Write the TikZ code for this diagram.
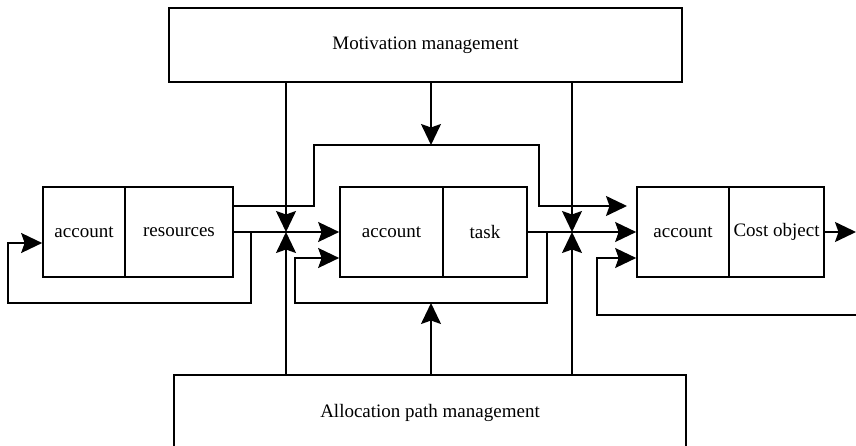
\documentclass[tikz,border=0pt]{standalone}
\usepackage{fontspec}
\setmainfont{Liberation Serif}
\usetikzlibrary{arrows.meta,calc}
\begin{document}
\begin{tikzpicture}[x=1pt,y=-1pt,
  box/.style={draw,line width=1.7pt,minimum height=90pt,inner sep=0pt,font=\fontsize{19}{22}\selectfont},
  big/.style={draw,line width=1.7pt,inner sep=0pt,font=\fontsize{19}{22}\selectfont},
  wire/.style={line width=1.7pt},
  arr/.style={wire,-{Stealth[length=21pt,width=20pt,inset=3.5pt]}}]
\useasboundingbox (0,0) rectangle (856,446);
% boxes
\node[big,minimum width=513pt,minimum height=74pt] (mot) at (425.5,45) {Motivation management};
\node[big,minimum width=512pt,minimum height=76pt] (alloc) at (430,413) {Allocation path management};
\node[box,minimum width=82pt] (acc1) at (84,232) {account};
\node[box,minimum width=108pt] (res) at (179,232) {resources};
\node[box,minimum width=103pt] (acc2) at (391.5,232) {account};
\node[box,minimum width=84pt] (task) at (485,232) {task};
\node[box,minimum width=92pt] (acc3) at (683,232) {account};
\node[box,minimum width=95pt] (cost) at (776.5,232) {Cost object};
% junction coordinates
\coordinate (c1) at (286,232);
\coordinate (c2) at (572,232);
\coordinate (ltop) at (431,145);
\coordinate (lbot) at (431,303);
\coordinate (upend) at (627,206);
\coordinate (out) at (856,232);
\coordinate (rin) at (856,315);
% main flow
\draw[arr] (res.east) -- (acc2.west);
\draw[arr] (task.east) -- (acc3.west);
\draw[arr] (cost.east) -- (out);
% upper bypass loop
\draw[arr] ([yshift=26pt]res.east) -- (314,206) |- (539,145) |- (upend);
% motivation controls
\draw[arr] (mot.south -| c1) -- (c1);
\draw[arr] (mot.south -| c2) -- (c2);
\draw[arr] (mot.south -| ltop) -- (ltop);
% allocation controls
\draw[arr] (alloc.north -| c1) -- (c1);
\draw[arr] (alloc.north -| c2) -- (c2);
\draw[arr] (alloc.north -| lbot) -- (lbot);
% feedback loops
\draw[arr] (251,232) -- (251,303) -| (8,243) -- ([yshift=-11pt]acc1.west);
\draw[arr] (547,232) -- (547,303) -| (295,258) -- ([yshift=-26pt]acc2.west);
\draw[arr] (rin) -| (597,258) -- ([yshift=-26pt]acc3.west);
\end{tikzpicture}
\end{document}
